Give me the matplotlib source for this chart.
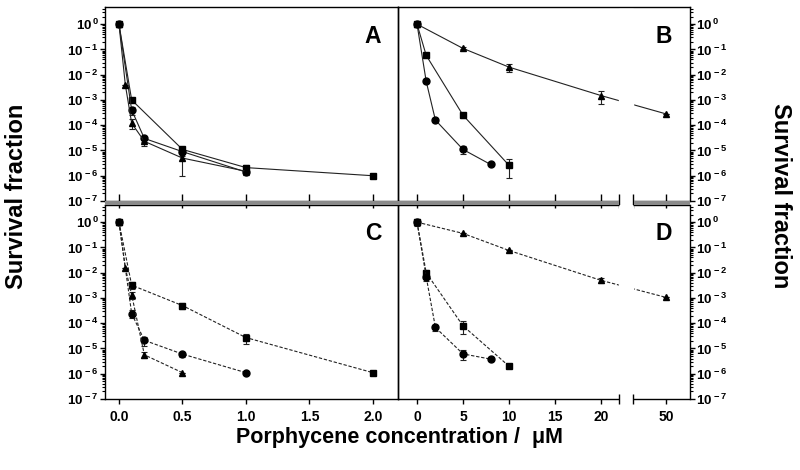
import numpy as np
import matplotlib
matplotlib.use('Agg')
import matplotlib.pyplot as plt
from matplotlib.patches import Rectangle
from matplotlib.ticker import FixedLocator, NullLocator, LogLocator, FuncFormatter, NullFormatter

plt.rcParams.update({
    'font.family': ['Liberation Sans', 'DejaVu Sans'],
    'font.weight': 'bold',
    'mathtext.fontset': 'custom',
    'mathtext.rm': 'Liberation Sans:bold',
    'mathtext.bf': 'Liberation Sans:bold',
    'mathtext.it': 'Liberation Sans:bold',
    'mathtext.default': 'bf',
})

# ---------------- data ----------------
# Panel A (solid lines)
a_sq_x = [0, 0.1, 0.5, 1.0, 2.0]
a_sq_y = [1.0, 1.0e-3, 1.1e-5, 2.1e-6, 1.0e-6]
a_sq_e = [0, 1.5e-4, 3e-6, 5e-7, 0]
a_ci_x = [0, 0.1, 0.2, 0.5, 1.0]
a_ci_y = [1.0, 4.0e-4, 3.0e-5, 9.0e-6, 1.4e-6]
a_ci_e = [0, 1.5e-4, 8e-6, 3e-6, 3e-7]
a_tr_x = [0, 0.05, 0.1, 0.2, 0.5, 1.0]
a_tr_y = [1.0, 4.0e-3, 1.2e-4, 2.3e-5, 5.0e-6, 1.5e-6]
a_tr_e = [0, 0, 5e-5, 8e-6, 4e-6, 4e-7]

# Panel B (solid lines)
b_sq_x = [0, 1, 5, 10]
b_sq_y = [1.0, 0.058, 2.5e-4, 2.6e-6]
b_sq_e = [0, 0.012, 5e-5, 1.8e-6]
b_ci_x = [0, 1, 2, 5, 8]
b_ci_y = [1.0, 5.4e-3, 1.6e-4, 1.1e-5, 2.8e-6]
b_ci_e = [0, 8e-4, 3e-5, 4e-6, 0]
b_tr_x = [0, 5, 10, 20, 50]
b_tr_y = [1.0, 0.11, 0.02, 1.5e-3, 2.8e-4]
b_tr_e = [0, 0.01, 0.007, 8e-4, 0]

# Panel C (dashed lines)
c_sq_x = [0, 0.1, 0.5, 1.0, 2.0]
c_sq_y = [1.0, 3.2e-3, 5.0e-4, 2.7e-5, 1.1e-6]
c_sq_e = [0, 1e-3, 1.5e-4, 1.2e-5, 0]
c_ci_x = [0, 0.1, 0.2, 0.5, 1.0]
c_ci_y = [1.0, 2.4e-4, 2.1e-5, 6.0e-6, 1.1e-6]
c_ci_e = [0, 8e-5, 8e-6, 1.5e-6, 0]
c_tr_x = [0, 0.05, 0.1, 0.2, 0.5]
c_tr_y = [1.0, 0.0155, 1.35e-3, 5.6e-6, 1.1e-6]
c_tr_e = [0, 0, 4e-4, 1.5e-6, 0]

# Panel D (dashed lines)
d_sq_x = [0, 1, 5, 10]
d_sq_y = [1.0, 9.9e-3, 7.9e-5, 2.0e-6]
d_sq_e = [0.3, 3e-3, 4.2e-5, 0]
d_ci_x = [0, 1, 2, 5, 8]
d_ci_y = [1.0, 6.8e-3, 6.8e-5, 6.1e-6, 3.8e-6]
d_ci_e = [0, 2e-3, 2e-5, 2.5e-6, 0]
d_tr_x = [0, 5, 10, 20, 50]
d_tr_y = [1.0, 0.36, 0.076, 5.0e-3, 1.05e-3]
d_tr_e = [0, 0, 0, 1e-3, 0]

ticks_left = [0.0, 0.5, 1.0, 1.5, 2.0]
ticklabels_left = ['0.0', '0.5', '1.0', '1.5', '2.0']
ticks_right = [0, 5, 10, 15, 20, 50]
ticklabels_right = ['0', '5', '10', '15', '20', '50']
panel_letters = ['A', 'B', 'C', 'D']
ylabel = 'Survival fraction'
xlabel = 'Porphycene concentration /  \u03bcM'

# ---------------- broken x scale for B / D ----------------
BRK0, BRK1, GAPW = 22.0, 46.4, 1.5


def fwd(x):
    x = np.asarray(x, dtype=float)
    return np.where(x <= BRK0, x,
                    np.where(x >= BRK1, x - BRK1 + BRK0 + GAPW,
                             BRK0 + (x - BRK0) * GAPW / (BRK1 - BRK0)))


def inv(t):
    t = np.asarray(t, dtype=float)
    return np.where(t <= BRK0, t,
                    np.where(t >= BRK0 + GAPW, t - (BRK0 + GAPW) + BRK1,
                             BRK0 + (t - BRK0) * (BRK1 - BRK0) / GAPW))


fig = plt.figure(figsize=(8, 4.7), dpi=100)
W, H = 800.0, 470.0


def px_axes(l, t, r, b):
    return fig.add_axes([l / W, 1 - b / H, (r - l) / W, (b - t) / H])


axA = px_axes(105, 7, 398, 201)
axB = px_axes(398, 7, 690, 201)
axC = px_axes(105, 205, 398, 399)
axD = px_axes(398, 205, 690, 399)

# grey band between the upper and lower rows (with the axis break gap)
for (l, r) in ((105, 619), (634, 690)):
    fig.patches.append(Rectangle((l / W, 1 - 205 / H), (r - l) / W, 4 / H,
                                 transform=fig.transFigure, facecolor='#8a8a8a',
                                 edgecolor='none', zorder=0))

LW = 1.0


def ylog_fmt(v, pos):
    k = int(round(np.log10(v)))
    return r'$10^{\,%d}$' % k


for ax in (axA, axB, axC, axD):
    ax.patch.set_alpha(0)
    ax.set_yscale('log')
    ax.set_ylim(1e-7, 10 ** 0.68)
    ax.yaxis.set_major_locator(FixedLocator([10.0 ** k for k in range(-7, 1)]))
    ax.yaxis.set_minor_locator(LogLocator(base=10, subs=np.arange(2, 10), numticks=30))
    ax.yaxis.set_major_formatter(FuncFormatter(ylog_fmt))
    ax.yaxis.set_minor_formatter(NullFormatter())
    for s in ax.spines.values():
        s.set_linewidth(LW)
    ax.tick_params(axis='y', which='major', direction='out', length=3.6, width=1.0,
                   labelsize=9.5, pad=1)
    ax.tick_params(axis='y', which='minor', direction='out', length=2.0, width=0.8)

for ax in (axA, axC):
    ax.yaxis.tick_left()
    ax.set_xlim(-0.11, 2.197)
    ax.xaxis.set_major_locator(FixedLocator(ticks_left))
    ax.xaxis.set_minor_locator(NullLocator())

for ax in (axB, axD):
    ax.yaxis.tick_right()
    ax.set_xscale('function', functions=(fwd, inv))
    ax.set_xlim(-2.07, 52.6)
    ax.xaxis.set_major_locator(FixedLocator(ticks_right))
    ax.xaxis.set_minor_locator(NullLocator())

axC.set_xticklabels(ticklabels_left)
axD.set_xticklabels(ticklabels_right)

for ax in (axA, axB):
    ax.tick_params(axis='x', which='major', direction='inout', length=9.4, width=1.0,
                   labelbottom=False)
for ax in (axC, axD):
    ax.tick_params(axis='x', which='major', direction='out', length=3.6, width=1.0,
                   labelsize=10, pad=4)


def draw(ax, x, y, e, marker, ms, dashed):
    ls = (0, (3, 1.6)) if dashed else '-'
    ax.errorbar(x, y, yerr=e, fmt=marker, linestyle=ls, color='#222222', lw=0.8,
                ms=ms, mfc='black', mec='black', ecolor='#222222', elinewidth=0.8,
                capsize=2.5, capthick=0.8, clip_on=False, zorder=2)


draw(axA, a_sq_x, a_sq_y, a_sq_e, 's', 5, False)
draw(axA, a_ci_x, a_ci_y, a_ci_e, 'o', 5, False)
draw(axA, a_tr_x, a_tr_y, a_tr_e, '^', 5, False)
draw(axB, b_sq_x, b_sq_y, b_sq_e, 's', 5, False)
draw(axB, b_ci_x, b_ci_y, b_ci_e, 'o', 5, False)
draw(axB, b_tr_x, b_tr_y, b_tr_e, '^', 5, False)
draw(axC, c_sq_x, c_sq_y, c_sq_e, 's', 5, True)
draw(axC, c_ci_x, c_ci_y, c_ci_e, 'o', 5, True)
draw(axC, c_tr_x, c_tr_y, c_tr_e, '^', 4.5, True)
draw(axD, d_sq_x, d_sq_y, d_sq_e, 's', 5, True)
draw(axD, d_ci_x, d_ci_y, d_ci_e, 'o', 5, True)
draw(axD, d_tr_x, d_tr_y, d_tr_e, '^', 4.5, True)

# ---- axis break on B / D ----
axB.axvspan(BRK0, BRK1, ymin=0.0, ymax=0.99, color='white', zorder=3)
axD.axvspan(BRK0, BRK1, ymin=0.0, ymax=1.0, color='white', zorder=3)
axB.spines['bottom'].set_visible(False)
axD.spines['bottom'].set_visible(False)
axD.spines['top'].set_visible(False)
for ax, ys in ((axB, [0]), (axD, [0, 1])):
    tr = ax.get_xaxis_transform()
    for yy in ys:
        ax.plot([-2.07, BRK0], [yy, yy], color='black', lw=LW, transform=tr,
                clip_on=False, zorder=4, solid_capstyle='butt')
        ax.plot([BRK1, 52.6], [yy, yy], color='black', lw=LW, transform=tr,
                clip_on=False, zorder=4, solid_capstyle='butt')
axB.plot([BRK0, BRK1], [0, 0], linestyle='none', marker='|', ms=9.4, mew=1.0,
         color='black', transform=axB.get_xaxis_transform(), clip_on=False, zorder=5)
axD.plot([BRK0, BRK1], [0, 0], linestyle='none', marker='|', ms=6.5, mew=1.0,
         color='black', transform=axD.get_xaxis_transform(), clip_on=False, zorder=5)

# ---- panel letters ----
for letter, (xr, yb) in zip(panel_letters, [(381, 43), (672, 43), (381, 240), (672, 240)]):
    fig.text(xr / W, 1 - yb / H, letter, ha='right', va='baseline',
             fontsize=16.5, fontweight='bold')

# ---- axis titles ----
fig.text(17 / W, 1 - 196 / H, ylabel, rotation=90, ha='center', va='center',
         fontsize=17, fontweight='bold')
fig.text(780 / W, 1 - 196 / H, ylabel, rotation=270, ha='center', va='center',
         fontsize=17, fontweight='bold')
fig.text(399 / W, 1 - 438 / H, xlabel, ha='center', va='center',
         fontsize=15.5, fontweight='bold')

fig.savefig('out.png', dpi=100)
